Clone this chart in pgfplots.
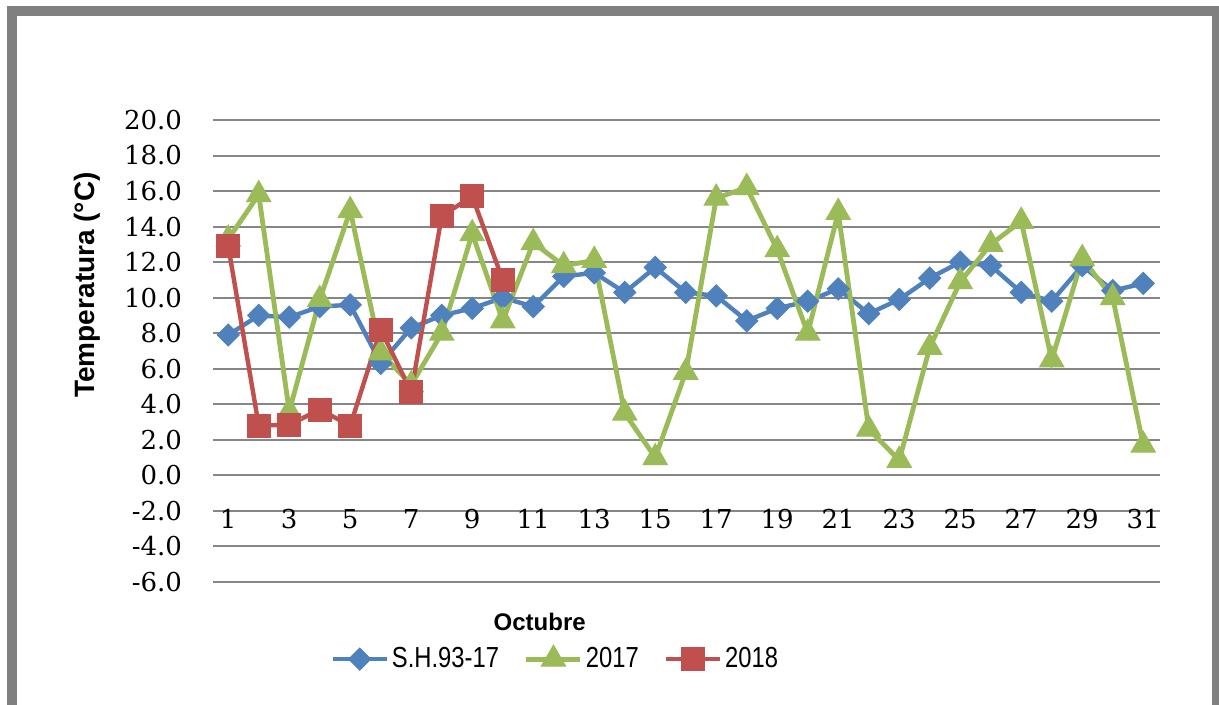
\documentclass[border=0pt]{standalone}
\usepackage{pgfplots}
\pgfplotsset{compat=1.18}
\usepackage{graphicx}
\usepackage{fontspec}
\setmainfont{Liberation Sans}
\newfontfamily\tickfont{DejaVu Serif}
\newcommand{\leg}[1]{\scalebox{0.82}[1]{#1}}
\definecolor{cblue}{HTML}{4F81BD}
\definecolor{cgreen}{HTML}{9BBB59}
\definecolor{cred}{HTML}{C0504D}
\definecolor{cgrid}{RGB}{134,134,134}
\definecolor{cframe}{RGB}{128,128,128}

\pgfplotstableread{
x y
1 7.9
2 9.0
3 8.9
4 9.5
5 9.6
6 6.3
7 8.3
8 9.0
9 9.4
10 10.0
11 9.5
12 11.2
13 11.4
14 10.3
15 11.7
16 10.3
17 10.1
18 8.7
19 9.4
20 9.8
21 10.5
22 9.1
23 9.9
24 11.1
25 12.0
26 11.8
27 10.3
28 9.8
29 11.8
30 10.4
31 10.8
}\tblSH

\pgfplotstableread{
x y
1 13.3
2 15.8
3 3.6
4 9.9
5 14.9
6 6.9
7 5.1
8 8.0
9 13.6
10 8.7
11 13.1
12 11.8
13 12.1
14 3.5
15 1.0
16 5.8
17 15.6
18 16.2
19 12.7
20 8.0
21 14.8
22 2.6
23 0.85
24 7.2
25 10.9
26 13.0
27 14.3
28 6.5
29 12.2
30 10.0
31 1.7
}\tblA

\pgfplotstableread{
x y
1 12.9
2 2.8
3 2.85
4 3.7
5 2.8
6 8.2
7 4.7
8 14.6
9 15.7
10 11.0
}\tblB

\begin{document}
\begin{tikzpicture}
\useasboundingbox (0,0) rectangle (609.5pt,352.5pt);
\fill[white] (0,0) rectangle (609.5pt,352.5pt);
\fill[cframe] (3.5pt,0pt) rectangle (8.5pt,349.5pt);
\fill[cframe] (3.5pt,344.5pt) rectangle (609.5pt,349.5pt);
\fill[cframe] (606pt,0pt) rectangle (609.5pt,349.5pt);
\begin{axis}[
  at={(106.5pt,61.5pt)}, anchor=south west,
  scale only axis, width=473.5pt, height=231pt,
  xmin=0.5, xmax=31.55, ymin=-6, ymax=20,
  ytick={-6,-4,...,20}, xtick={1,3,...,31},
  axis line style={draw=none},
  major tick length=0pt,
  ymajorgrids, grid style={cgrid, line width=1pt},
  /pgf/number format/assume math mode=true,
  yticklabel style={font=\tickfont\fontsize{13}{15}\selectfont, xshift=-12pt,
    /pgf/number format/.cd, fixed, fixed zerofill, precision=1},
  xticklabel style={font=\tickfont\fontsize{13}{15}\selectfont, anchor=center, yshift=31.5pt},
  ylabel={Temperatura (°C)},
  ylabel style={font=\bfseries\fontsize{14}{16}\selectfont, at={(axis description cs:-0.133,0.643)}, anchor=center, rotate=0},
  xlabel={Octubre},
  xlabel style={font=\bfseries\fontsize{12}{14}\selectfont, at={(axis description cs:0.345,-0.087)}, anchor=center},
  legend style={at={(axis description cs:0.362,-0.167)}, anchor=center, draw=none, fill=none,
    font=\fontsize{14.5}{16}\selectfont,
    /tikz/every odd column/.append style={column sep=0pt},
    /tikz/every even column/.append style={column sep=11pt},
    nodes={inner xsep=1.5pt}},
  legend columns=3,
  legend image code/.code={\draw[mark repeat=2,mark phase=2,#1] plot coordinates {(0pt,0pt) (13.5pt,0pt) (27pt,0pt)};},
]
\addplot[cblue, line width=2.2pt, mark=square*, mark size=3.9pt, mark options={solid, rotate=45, fill=cblue, draw=cblue, line width=0.5pt}] table[x=x,y=y] {\tblSH};
\addlegendentry{\leg{S.H.93-17}}
\addplot[cgreen, line width=2.4pt, mark=triangle*, mark size=7pt, mark options={solid, fill=cgreen, draw=cgreen, line width=0.5pt}] table[x=x,y=y] {\tblA};
\addlegendentry{\leg{2017}}
\addplot[cred, line width=2.2pt, mark=square*, mark size=5.7pt, mark options={solid, fill=cred, draw=cred, line width=0.5pt}] table[x=x,y=y] {\tblB};
\addlegendentry{\leg{2018}}
\end{axis}
\end{tikzpicture}
\end{document}
